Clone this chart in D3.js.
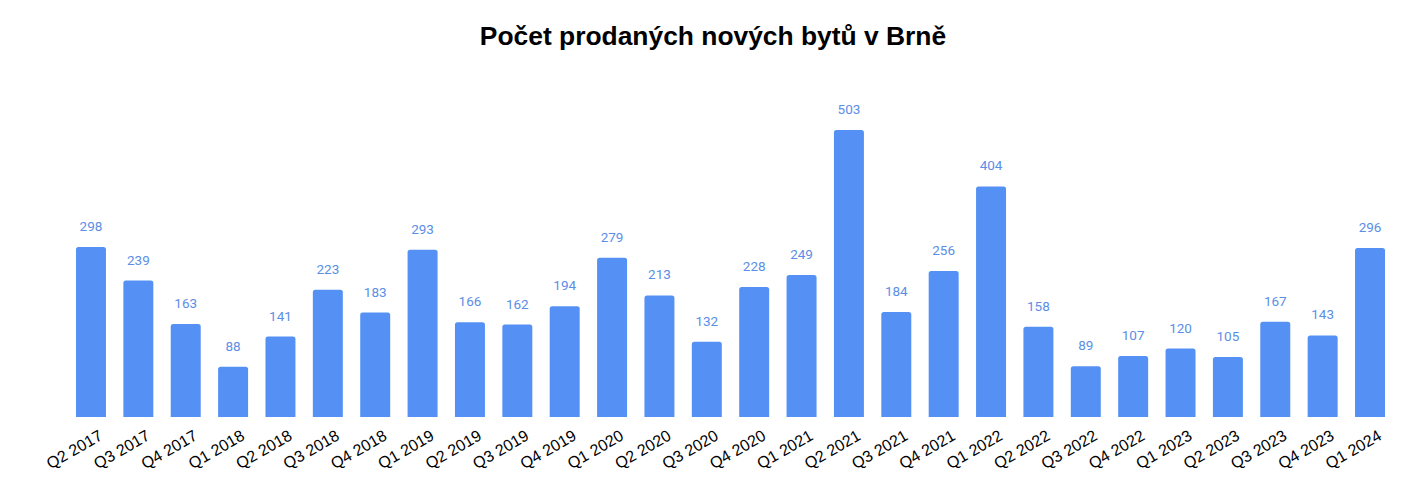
<!DOCTYPE html>
<html><head><meta charset="utf-8">
<script src="https://cdn.jsdelivr.net/npm/d3@7"></script>
<style>body{margin:0;background:#fff}</style>
</head><body>
<svg id="c" width="1426" height="487"></svg>
<script>
const categories = ["Q2 2017","Q3 2017","Q4 2017","Q1 2018","Q2 2018","Q3 2018","Q4 2018","Q1 2019","Q2 2019","Q3 2019","Q4 2019","Q1 2020","Q2 2020","Q3 2020","Q4 2020","Q1 2021","Q2 2021","Q3 2021","Q4 2021","Q1 2022","Q2 2022","Q3 2022","Q4 2022","Q1 2023","Q2 2023","Q3 2023","Q4 2023","Q1 2024"];
const values = [298,239,163,88,141,223,183,293,166,162,194,279,213,132,228,249,503,184,256,404,158,89,107,120,105,167,143,296];
const title = "Počet prodaných nových bytů v Brně";

const svg = d3.select("#c");
const x = d3.scaleBand().domain(categories).range([52.3, 1408.7]).paddingInner(0.367).paddingOuter(0.5);
const y = d3.scaleLinear().domain([0, 600]).range([417, 74.6]);

svg.append("text").attr("x", 713).attr("y", 45).attr("text-anchor", "middle")
  .attr("font-family", "Liberation Sans, Arial, sans-serif").attr("font-weight", "bold")
  .attr("font-size", 26.4).attr("fill", "#000").text(title);

const r = 2.5;
svg.append("g").selectAll("path").data(values).join("path")
  .attr("fill", "#5591f5")
  .attr("d", (d, i) => {
    const x0 = x(categories[i]), w = x.bandwidth(), y0 = y(d), y1 = y(0);
    return `M${x0},${y1}V${y0 + r}Q${x0},${y0} ${x0 + r},${y0}H${x0 + w - r}Q${x0 + w},${y0} ${x0 + w},${y0 + r}V${y1}Z`;
  });

svg.append("g").selectAll("text").data(values).join("text")
  .attr("x", (d, i) => x(categories[i]) + x.bandwidth() / 2)
  .attr("y", d => y(d) - 16)
  .attr("text-anchor", "middle")
  .attr("font-family", "Roboto, sans-serif").attr("font-size", 13.5)
  .attr("fill", "#5b8ee6").text(d => d);

const xAxis = d3.axisBottom(x).tickSize(0).tickPadding(0);
const gx = svg.append("g").attr("transform", "translate(0,417)").call(xAxis);
gx.select(".domain").remove();
gx.selectAll("text")
  .attr("font-family", "Liberation Sans, Arial, sans-serif").attr("font-size", 16).attr("fill", "#000")
  .attr("text-anchor", "end")
  .attr("dy", "0.71em")
  .attr("transform", function() { return "translate(7,12) rotate(-30)"; })
  .attr("x", 0).attr("y", 0);
</script>
</body></html>
